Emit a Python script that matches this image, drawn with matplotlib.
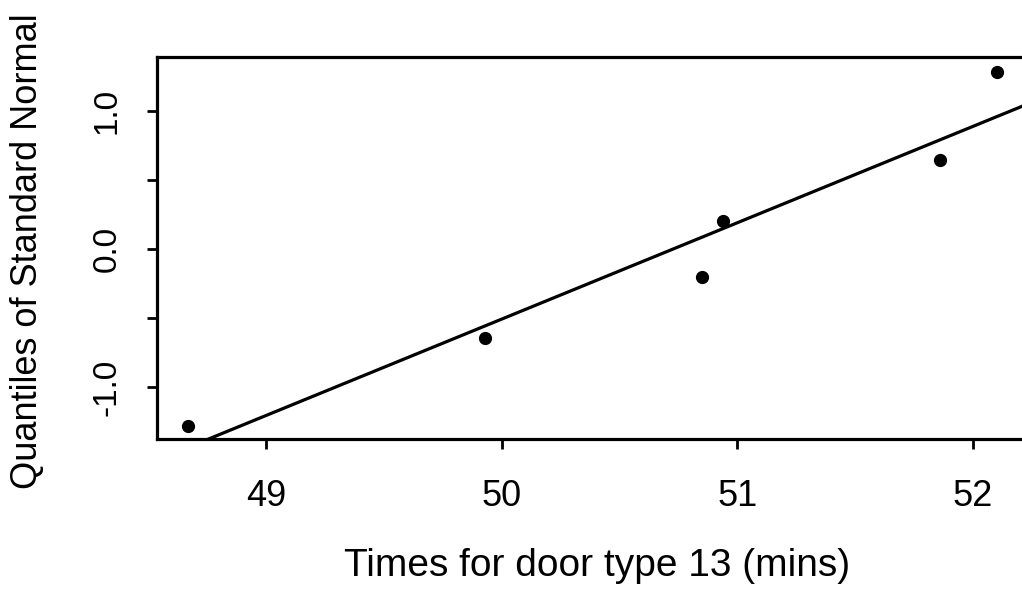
from matplotlib import pyplot as plt
import numpy as np

# door type 13 times (mins) and the standard normal quantiles they pair with
times = [48.67, 49.93, 50.85, 50.94, 51.86, 52.10]
quantiles = [-1.2816, -0.6433, -0.2019, 0.2019, 0.6433, 1.2816]
y_ticks = [-1.0, -0.5, 0.0, 0.5, 1.0]
y_tick_labels = ['-1.0', '', '0.0', '', '1.0']
x_ticks = [49, 50, 51, 52]

plt.rcParams['font.family'] = ['Liberation Sans', 'DejaVu Sans']

fig = plt.figure(figsize=(10.22, 6.0), dpi=100)
ax = fig.add_axes([157 / 1022, 161 / 600, (1045 - 157) / 1022, 382 / 600])

x = np.array(times)
y = np.array(quantiles)
slope, intercept = np.polyfit(x, y, 1)

ax.plot(x, y, 'o', color='black', markersize=8.5)
xl = np.array([48.4, 52.4])
ax.plot(xl, intercept + slope * xl, color='black', linewidth=2.3)

ax.set_xlim(48.538, 52.305)
ax.set_ylim(-1.375, 1.393)

ax.set_xticks(x_ticks)
ax.set_xticklabels([str(t) for t in x_ticks])
ax.set_yticks(y_ticks)
ax.set_yticklabels(y_tick_labels, rotation=90, va='center')

ax.tick_params(axis='both', direction='out', length=7, width=2, color='black')
ax.tick_params(axis='x', pad=22, labelsize=26)
ax.tick_params(axis='y', pad=18, labelsize=24)

for side in ['top', 'left', 'bottom', 'right']:
    ax.spines[side].set_linewidth(2.3)

ax.set_xlabel('Times for door type 13 (mins)', fontsize=28)
ax.set_ylabel('Quantiles of Standard Normal', fontsize=26)
ax.xaxis.set_label_coords((597 - 157) / 888, (34 - 161) / 382)
ax.xaxis.label.set_va('center')
ax.yaxis.set_label_coords((28 - 157) / 888, (349 - 161) / 382)
ax.yaxis.label.set_va('center')

plt.savefig('out.png', dpi=100)
